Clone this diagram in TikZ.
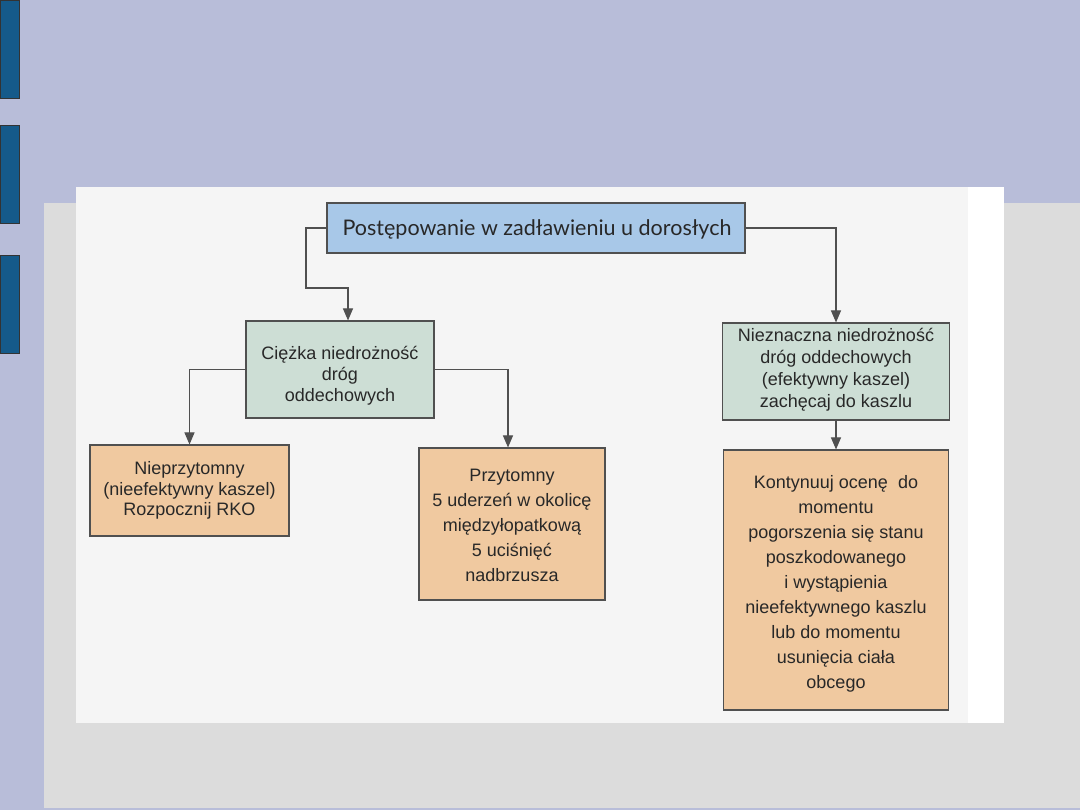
\documentclass[tikz,border=0pt]{standalone}
\usepackage{fontspec}
\setmainfont{Liberation Sans}
\newfontfamily\titlefont{Lato}
\usetikzlibrary{arrows.meta,calc}
\definecolor{lav}{RGB}{184,189,217}
\definecolor{slidegray}{RGB}{220,220,220}
\definecolor{barblue}{RGB}{21,90,138}
\definecolor{scan}{RGB}{245,245,245}
\definecolor{titlefill}{RGB}{168,200,232}
\definecolor{greenfill}{RGB}{205,222,213}
\definecolor{orangefill}{RGB}{240,201,160}
\definecolor{edge}{RGB}{80,80,80}
\definecolor{txt}{RGB}{40,40,40}
\tikzset{
  box/.style={draw=edge, line width=1.1pt, rectangle, inner sep=0pt},
  greenbox/.style={box, fill=greenfill},
  orangebox/.style={box, fill=orangefill},
  lbl/.style={align=center, text=txt, inner sep=0pt, font=\fontsize{18}{21}\selectfont},
  arr/.style={draw=edge, line width=1.1pt, -{Triangle[width=10pt,length=12pt]}},
  bar/.style={fill=barblue, draw=black!80, line width=0.8pt}
}
\begin{document}
\begin{tikzpicture}[x=1pt,y=-1pt]
\useasboundingbox (0,0) rectangle (1080,810);
% slide background
\fill[lav] (0,0) rectangle (1080,810);
\fill[slidegray] (44,203) rectangle (1080,808);
\draw[bar] (0,0) rectangle (19,98);
\draw[bar] (0,125) rectangle (19,223);
\draw[bar] (0,255) rectangle (19,353);
% scanned page
\fill[scan] (76,187) rectangle (968,723);
\fill[white] (968,187) rectangle (1004,723);
% boxes
\node[box, fill=titlefill, minimum width=418pt, minimum height=50pt] (title) at (536,228) {};
\node[greenbox, minimum width=188pt, minimum height=97pt] (ciez) at (340,369.5) {};
\node[orangebox, minimum width=199pt, minimum height=91pt] (nprz) at (189.5,490.5) {};
\node[orangebox, minimum width=186pt, minimum height=152pt] (prz) at (512,524) {};
\node[greenbox, minimum width=227pt, minimum height=97pt] (nie) at (836,371.5) {};
\node[orangebox, minimum width=225pt, minimum height=260pt] (kont) at (836,580) {};
% texts
\node[lbl, font=\titlefont\fontsize{21.5}{24}\selectfont] (titleT) at (537,229) {Postępowanie w zadławieniu u dorosłych};
\node[lbl] (ciezT) at (340,376) {Ciężka niedrożność\\dróg\\oddechowych};
\node[lbl, font=\fontsize{18}{20.5}\selectfont] (nprzT) at (189.5,490.5) {Nieprzytomny\\(nieefektywny kaszel)\\Rozpocznij RKO};
\node[lbl, font=\fontsize{18}{25}\selectfont] (przT) at (512,525) {Przytomny\\5 uderzeń w okolicę\\międzyłopatkową\\5 uciśnięć\\nadbrzusza};
\node[lbl, font=\fontsize{18}{22}\selectfont] (nieT) at (836,370) {Nieznaczna niedrożność\\dróg oddechowych\\(efektywny kaszel)\\zachęcaj do kaszlu};
\node[lbl, font=\fontsize{18}{25}\selectfont] (kontT) at (836,584) {Kontynuuj ocenę\ \ do\\momentu\\pogorszenia się stanu\\poszkodowanego\\i wystąpienia\\nieefektywnego kaszlu\\lub do momentu\\usunięcia ciała\\obcego};
% connectors
\coordinate (a1) at (306,288);
\draw[arr] (title.west) -| (a1) -| ($(ciez.north)+(8,0)$);
\draw[arr] (title.east) -| (nie.north);
\draw[arr] (ciez.west) -| (nprz.north);
\draw[arr] (ciez.east) -| ($(prz.north)+(-4,0)$);
\draw[arr] (nie.south) -- (kont.north);
\end{tikzpicture}
\end{document}
